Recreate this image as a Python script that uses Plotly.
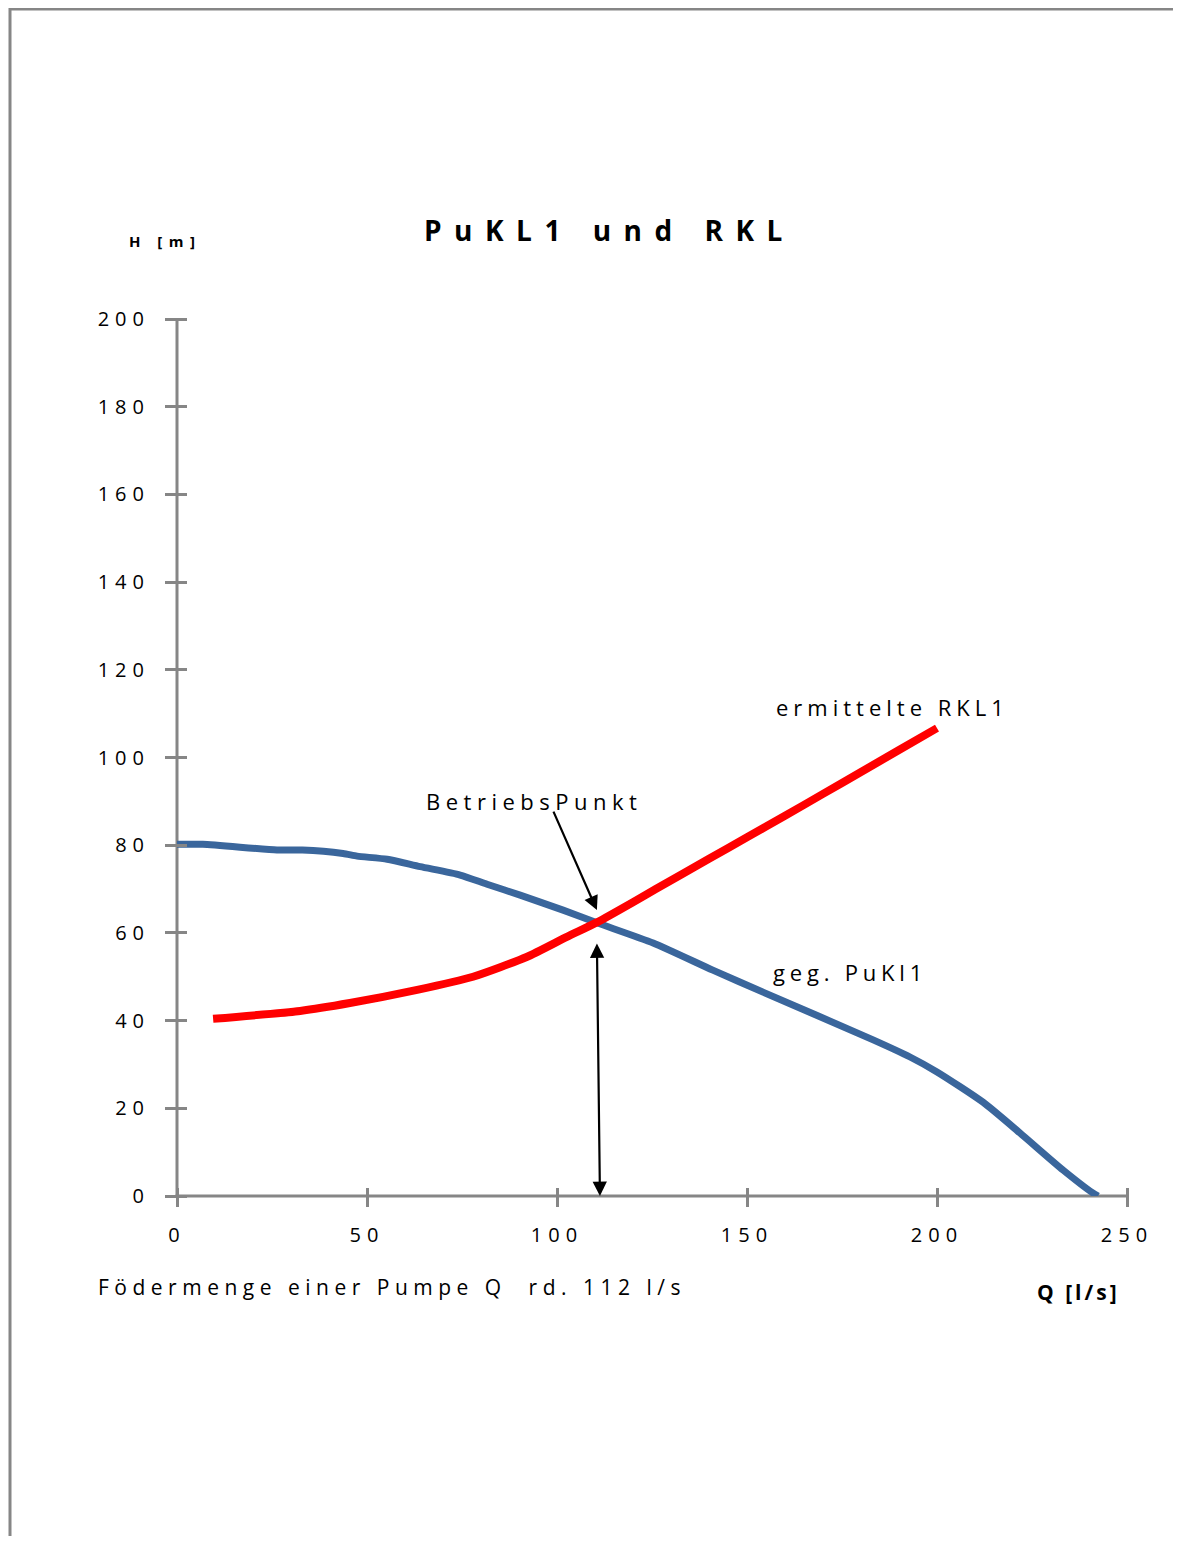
import plotly.graph_objects as go

# Pumpenkennlinie (blau)
q_pump = [0, 6.8, 26.3, 33, 43.7, 47.4, 55.3, 64, 74.5, 81.6, 90.3, 101.6, 110.5,
          125.3, 141, 154.2, 183.2, 192.9, 200, 212.1, 221.8, 233.2, 241, 242.4]
h_pump = [80.2, 80.2, 78.9, 78.9, 78.1, 77.5, 76.8, 75.1, 73.2, 71.1, 68.6, 65.2, 62.3,
          57.7, 51.5, 46.5, 35.6, 31.7, 28.3, 21.4, 14.4, 5.9, 0.7, 0]

# Rohrleitungskennlinie (rot)
q_rkl = [9.5, 32.4, 45.5, 63.2, 77.9, 92, 102.6, 110.5, 120, 126, 140, 150, 160,
         170, 180, 190, 200]
h_rkl = [40.4, 42.2, 44.0, 47.0, 50.0, 54.5, 59.1, 62.4, 67.0, 70.0, 76.9, 81.8, 86.7,
         91.7, 96.7, 101.7, 106.7]

# Betriebspunkt-Pfeile
bp_label = [98.9, 88.0]
bp_head = [110.5, 65.2]
q_arrow = [110.5, 111.3]
h_arrow = [57.9, 0]

x_ticks = [0, 50, 100, 150, 200, 250]
y_ticks = [0, 20, 40, 60, 80, 100, 120, 140, 160, 180, 200]

FONT = "Open Sans"
GRAY = "#868686"


def spaced(s, px):
    return '<span style="letter-spacing:%spx">%s</span>' % (px, s)


fig = go.Figure()
fig.add_trace(go.Scatter(x=q_pump, y=h_pump, mode="lines",
                         line=dict(color="#3A669C", width=7, shape="spline", smoothing=0.6),
                         showlegend=False))
fig.add_trace(go.Scatter(x=q_rkl, y=h_rkl, mode="lines",
                         line=dict(color="#FF0000", width=8, shape="spline", smoothing=0.6),
                         showlegend=False))

# ticks cross the axis line: the tick axes sit 10px inside the plot area,
# the axis lines themselves are drawn as shapes
axis_common = dict(showgrid=False, zeroline=False, showline=False,
                   ticks="outside", tickwidth=3, tickcolor=GRAY,
                   tickfont=dict(family=FONT, size=20, color="black"),
                   anchor="free")

# the page body has an 8px default margin, so margins are shifted by 8
fig.update_layout(
    width=1165, height=1528,
    paper_bgcolor="white", plot_bgcolor="white",
    margin=dict(l=169, r=46, t=311, b=340),
    font=dict(family=FONT, color="black"),
    xaxis=dict(range=[0, 250], tickvals=x_ticks,
               ticktext=[spaced(t, 6) for t in x_ticks],
               ticklen=19, position=9 / 877, ticklabelstandoff=11, **axis_common),
    yaxis=dict(range=[0, 200], tickvals=y_ticks,
               ticktext=[spaced(t, 6) for t in y_ticks],
               ticklen=22, position=10 / 950, ticklabelstandoff=11, **axis_common),
)

px = lambda p: (p - 177) / 950
py = lambda p: (1196 - p) / 877

# Achslinien
fig.add_shape(type="line", xref="paper", yref="paper", x0=0, x1=0, y0=0, y1=1,
              layer="below", line=dict(color=GRAY, width=3))
fig.add_shape(type="line", xref="paper", yref="paper", x0=-0.0016, x1=1, y0=0, y1=0,
              layer="below", line=dict(color=GRAY, width=3))

# Rahmen
fig.add_shape(type="line", xref="paper", yref="paper", x0=px(10), x1=px(10),
              y0=py(8), y1=py(1560), line=dict(color=GRAY, width=3))
fig.add_shape(type="line", xref="paper", yref="paper", x0=px(10), x1=px(1200),
              y0=py(9), y1=py(9), line=dict(color=GRAY, width=3))


def txt(x, y, text, size=20, bold=False, sp=5):
    fig.add_annotation(x=px(x), y=py(y), xref="paper", yref="paper",
                       text=spaced(text, sp), showarrow=False,
                       xanchor="left", yanchor="middle",
                       font=dict(family=FONT, size=size, color="black",
                                 weight="bold" if bold else "normal"))


txt(422, 230, "PuKL1 und RKL", size=28, bold=True, sp=12.5)
txt(127, 241, "H [m]", size=15, bold=True, sp=6.5)
txt(96, 1287, "Födermenge einer Pumpe Q  rd. 112 l/s", size=21, sp=5.5)
txt(1035, 1292, "Q [l/s]", size=21, bold=True, sp=3)
txt(774, 707, "ermittelte RKL1", size=22, sp=5)
txt(424, 801, "BetriebsPunkt", size=22, sp=5.5)
txt(771, 972, "geg. PuKl1", size=22, sp=4.8)

fig.add_annotation(x=bp_head[0], y=bp_head[1], ax=bp_label[0], ay=bp_label[1],
                   xref="x", yref="y", axref="x", ayref="y", text="",
                   showarrow=True, arrowhead=2, arrowsize=1.3, arrowwidth=2.2,
                   arrowcolor="black")
fig.add_annotation(x=q_arrow[1], y=h_arrow[1], ax=q_arrow[0], ay=h_arrow[0],
                   xref="x", yref="y", axref="x", ayref="y", text="",
                   showarrow=True, arrowhead=2, startarrowhead=2, arrowside="end+start",
                   arrowsize=1.3, startarrowsize=1.3, arrowwidth=2.2, arrowcolor="black")

fig.write_html("out.html")
